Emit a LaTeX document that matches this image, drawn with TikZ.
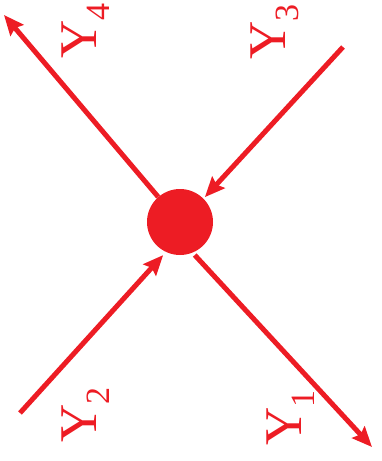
\documentclass[tikz,border=0pt]{standalone}
\usepackage{fontspec}
\setmainfont{Liberation Serif}
\usetikzlibrary{arrows.meta}
\definecolor{myred}{HTML}{ED1C24}
\tikzset{
  conn/.style={draw=myred, line width=5pt, -{Stealth[length=20pt,width=17pt,inset=3pt]}},
  lbl/.style={text=myred, inner sep=0pt, rotate=90, font=\fontsize{53}{53}\selectfont},
}
\newcommand{\sublbl}[1]{\raisebox{-13pt}{\fontsize{34}{34}\selectfont #1}}
\begin{document}
\begin{tikzpicture}[x=1pt,y=1pt]
\useasboundingbox (0,0) rectangle (382,-461);
\node[circle, fill=myred, minimum size=66pt, inner sep=0pt] (c) at (180,-222) {};
\coordinate (y4) at (4,-15);
\coordinate (y3) at (343,-47);
\coordinate (y2) at (20,-413);
\coordinate (y1) at (372,-447);
\draw[conn] (c.131) -- (y4);
\draw[conn] (y3) -- ([shift={(45:2pt)}]c.45);
\draw[conn] (y2) -- ([shift={(243:4pt)}]c.243);
\draw[conn] ([shift={(294:3pt)}]c.294) -- (y1);
\node[lbl] (l4) at (86,-31) {Y\sublbl{4}};
\node[lbl] (l3) at (275,-32) {Y\sublbl{3}};
\node[lbl] (l2) at (86,-415) {Y\sublbl{2}};
\node[lbl] (l1) at (291,-418) {Y\sublbl{1}};
\end{tikzpicture}
\end{document}
